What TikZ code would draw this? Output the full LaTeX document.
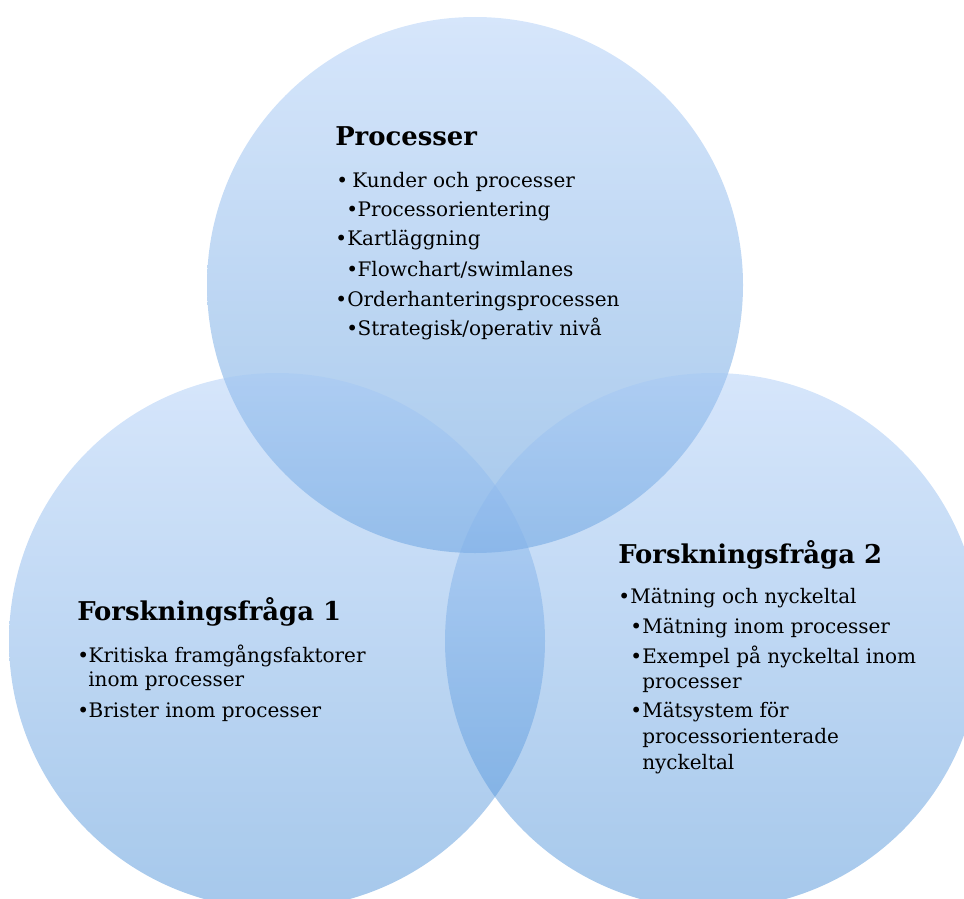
\documentclass[tikz,border=0pt]{standalone}
\usepackage{fontspec}
\setmainfont{DejaVu Serif}
\definecolor{vtop}{RGB}{164,199,246}
\definecolor{vbot}{RGB}{57,133,211}
\newcommand\bul[1]{\makebox[#1][l]{•}}
\begin{document}
\begin{tikzpicture}[x=0.75pt,y=-0.75pt,
  venn/.style={top color=vtop, bottom color=vbot, fill opacity=0.45, draw=none},
  head/.style={anchor=base west, inner sep=0pt, font=\bfseries\fontsize{19.4}{23}\selectfont},
  item/.style={anchor=base west, inner sep=0pt, font=\fontsize{15}{18}\selectfont},
]
\clip (0,0) rectangle (964,899);

% three overlapping circles
\path[venn] (475,285) circle[radius=268];
\path[venn] (277,641) circle[radius=268];
\path[venn] (713,641) circle[radius=268];

% top circle
\node[head] (ph) at (335,146) {Processer};
\node[item] (p1) at (336,187) {\bul{12pt}Kunder och processer};
\node[item] (p2) at (346,216) {\bul{8.5pt}Processorientering};
\node[item] (p3) at (335,245) {\bul{9pt}Kartläggning};
\node[item] (p4) at (346,276) {\bul{8.5pt}Flowchart/swimlanes};
\node[item] (p5) at (335,306) {\bul{9pt}Orderhanteringsprocessen};
\node[item] (p6) at (346,335) {\bul{8.5pt}Strategisk/operativ nivå};

% lower left circle
\node[head] (ah) at (77,620) {Forskningsfråga 1};
\node[item] (a1) at (77,662) {\bul{8.5pt}Kritiska framgångsfaktorer};
\node[item] (a2) at (88,686) {inom processer};
\node[item] (a3) at (77,717) {\bul{8.5pt}Brister inom processer};

% lower right circle
\node[head] (bh) at (618,563) {Forskningsfråga 2};
\node[item] (b1) at (618,603) {\bul{9pt}Mätning och nyckeltal};
\node[item] (b2) at (630,633) {\bul{9pt}Mätning inom processer};
\node[item] (b3) at (630,663) {\bul{9pt}Exempel på nyckeltal inom};
\node[item] (b4) at (642,688) {processer};
\node[item] (b5) at (630,717) {\bul{9pt}Mätsystem för};
\node[item] (b6) at (642,743) {processorienterade};
\node[item] (b7) at (642,769) {nyckeltal};
\end{tikzpicture}
\end{document}
